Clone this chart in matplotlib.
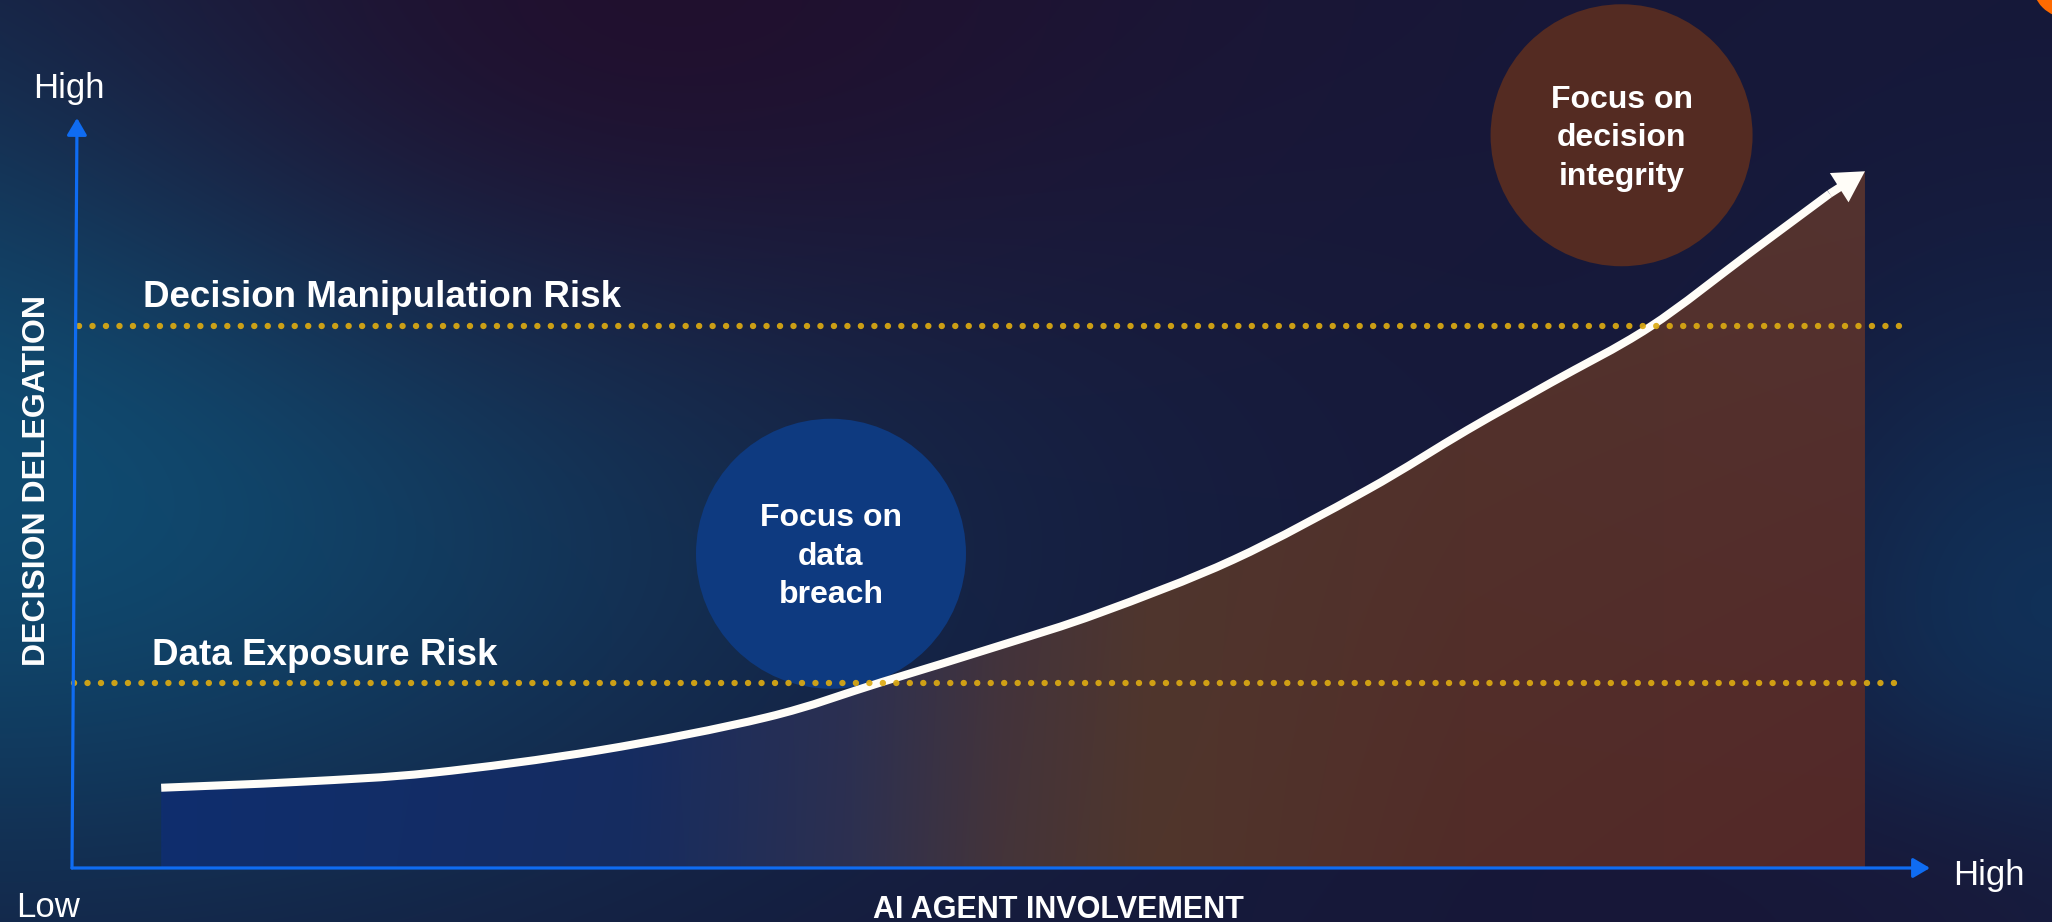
import numpy as np
import matplotlib
matplotlib.use("Agg")
import matplotlib.pyplot as plt
from matplotlib.path import Path
from matplotlib.patches import PathPatch, Circle

# ----------------------------------------------------------------------
#   Data (axes run 0..100 on both directions)
# ----------------------------------------------------------------------
involvement = [4.8, 12.3, 19.4, 28.4, 37.4, 43.6, 50.0, 55.3, 62.5,
               69.7, 75.1, 79.6, 84.9, 90.3, 94.6]
delegation = [10.7, 11.5, 12.7, 15.7, 20.1, 24.8, 29.7, 34.0, 41.1,
              50.4, 58.4, 64.7, 72.1, 82.0, 89.9]
arrow_tip = (96.5, 92.9)

risk_levels = [72.3, 24.7]
risk_labels = ["Decision Manipulation Risk", "Data Exposure Risk"]

focus_x = [40.85, 83.4]
focus_y = [41.9, 97.7]
focus_labels = ["Focus on\ndata\nbreach", "Focus on\ndecision\nintegrity"]

# ----------------------------------------------------------------------
#   Layout / style
# ----------------------------------------------------------------------
W, H = 2052, 922
FONT = "Liberation Sans"
AXIS_BLUE = "#0f6cf2"
DOT_GOLD = "#dcaa12"
LINE_WHITE = "#fffdf8"
focus_colors = ["#0e3a80", "#542b22"]
focus_diam_px = [270, 262]
risk_label_pos = [(3.8, 74.8), (4.3, 27.1)]
risk_line_span = [(0.4, 98.6), (0.1, 98.2)]

plt.rcParams["font.family"] = [FONT, "DejaVu Sans"]


def px(x, y):
    return x / W, 1 - y / H


# ----------------------------------------------------------------------
#   smooth_path: Catmull-Rom curve through the points as Bezier segments
# ----------------------------------------------------------------------
def smooth_path(xs, ys):
    pts = np.column_stack([xs, ys])
    p = np.vstack([pts[0], pts, pts[-1]])
    verts = [pts[0]]
    codes = [Path.MOVETO]
    for i in range(1, len(p) - 2):
        c1 = p[i] + (p[i + 1] - p[i - 1]) / 6
        c2 = p[i + 1] - (p[i + 2] - p[i]) / 6
        verts += [c1, c2, p[i + 1]]
        codes += [Path.CURVE4] * 3
    return verts, codes


fig = plt.figure(figsize=(W / 100, H / 100), dpi=100)

# background made of a few soft colour blobs
yy, xx = np.mgrid[0:H:2, 0:W:2].astype(float)
bg = np.ones(xx.shape + (3,)) * np.array([22, 24, 57]) / 255


def blob(img, cx, cy, sx, sy, color, strength=1.0):
    w = strength * np.exp(-(((xx - cx) / sx) ** 2 + ((yy - cy) / sy) ** 2) / 2)
    w = w[..., None]
    return img * (1 - w) + np.array(color) / 255 * w


bg = blob(bg, 0, 420, 580, 330, (14, 80, 118))
bg = blob(bg, 650, 0, 450, 260, (34, 14, 44), 0.9)
bg = blob(bg, 2052, 640, 200, 230, (16, 52, 92), 0.9)
bg = blob(bg, 1900, 900, 300, 120, (26, 20, 52), 0.6)

bg_ax = fig.add_axes([0, 0, 1, 1])
bg_ax.imshow(np.clip(bg, 0, 1), extent=[0, W, H, 0], aspect="auto",
             interpolation="bilinear")
bg_ax.add_patch(Circle((2068, -18), 36, color="#ff6a00", lw=0))
bg_ax.set_xlim(0, W)
bg_ax.set_ylim(H, 0)
bg_ax.set_axis_off()

# main axes, origin at the corner of the blue axis arrows
left, bottom = px(72, 868)
right, top = px(1930, 118)
ax = fig.add_axes([left, bottom, right - left, top - bottom])
ax.set_xlim(0, 100)
ax.set_ylim(0, 100)
ax.patch.set_alpha(0)
for s in ax.spines.values():
    s.set_visible(False)
ax.set_xticks([])
ax.set_yticks([])

curve_verts, curve_codes = smooth_path(involvement, delegation)

# gradient fill under the curve
fill_verts = curve_verts + [arrow_tip, (arrow_tip[0], 0),
                            (involvement[0], 0), curve_verts[0]]
fill_codes = curve_codes + [Path.LINETO, Path.LINETO, Path.LINETO, Path.CLOSEPOLY]
fill_path = Path(fill_verts, fill_codes)

x_lo, x_hi = involvement[0], arrow_tip[0]
gx = np.linspace(x_lo, x_hi, 400)
stops_x = [4.8, 30, 42, 50, 58, 75, 96.5]
stops_top = [(15, 46, 110), (20, 45, 100), (42, 48, 84), (64, 50, 64),
             (78, 53, 48), (82, 52, 45), (84, 51, 48)]
stops_bot = [(15, 46, 110), (22, 44, 96), (45, 48, 80), (68, 52, 58),
             (80, 54, 44), (82, 44, 40), (84, 40, 40)]
top_row = np.stack([np.interp(gx, stops_x, [c[i] for c in stops_top]) for i in range(3)], -1)
bot_row = np.stack([np.interp(gx, stops_x, [c[i] for c in stops_bot]) for i in range(3)], -1)
t = np.linspace(0, 1, 200)[:, None, None]
grad = (bot_row[None] * (1 - t) + top_row[None] * t) / 255
im = ax.imshow(grad, extent=[x_lo, x_hi, 0, arrow_tip[1]],
               origin="lower", aspect="auto", zorder=1, interpolation="bilinear")
im.set_clip_path(fill_path, transform=ax.transData)

# focus bubbles
for i in range(len(focus_x)):
    d_pt = focus_diam_px[i] * 0.72
    ax.scatter(focus_x[i], focus_y[i], s=d_pt ** 2, color=focus_colors[i],
               edgecolors="none", zorder=2, clip_on=False)
    ax.text(focus_x[i], focus_y[i] - 0.4, focus_labels[i], ha="center",
            va="center", fontsize=23, fontweight="bold", color="white",
            linespacing=1.38, zorder=3, clip_on=False)

# the white curve and its arrow head
ax.add_patch(PathPatch(Path(curve_verts, curve_codes), fill=False,
                       edgecolor=LINE_WHITE, lw=5.8, capstyle="butt",
                       joinstyle="round", zorder=4))
ax.annotate("", xy=arrow_tip, xytext=(involvement[-1], delegation[-1]),
            arrowprops=dict(arrowstyle="simple,head_length=1.1,head_width=1.25,tail_width=0.29",
                            mutation_scale=20, fc=LINE_WHITE, ec="none", lw=0,
                            shrinkA=0, shrinkB=0), zorder=4)

# risk thresholds
for i in range(len(risk_levels)):
    x0, x1 = risk_line_span[i]
    ax.plot([x0, x1], [risk_levels[i], risk_levels[i]], color=DOT_GOLD,
            lw=4.6, linestyle=(0, (0.01, 2.1)), dash_capstyle="round",
            alpha=0.92, zorder=5, clip_on=False)
    lx, ly = risk_label_pos[i]
    ax.text(lx, ly, risk_labels[i], ha="left", va="baseline", fontsize=26.5,
            fontweight="bold", color="white", zorder=6)

# axis arrows
arrow_kw = dict(arrowstyle="-|>,head_length=0.85,head_width=0.5",
                mutation_scale=12, lw=2.3, color=AXIS_BLUE,
                shrinkA=0, shrinkB=0)
ax.annotate("", xy=(1, 0), xytext=(0, 0), xycoords="axes fraction",
            arrowprops=arrow_kw, annotation_clip=False, zorder=7)
ax.annotate("", xy=(0.0027, 1), xytext=(0, 0), xycoords="axes fraction",
            arrowprops=arrow_kw, annotation_clip=False, zorder=7)

# axis end labels and titles
fig.text(*px(33, 98), "High", ha="left", va="baseline", fontsize=25, color="white")
fig.text(*px(16, 917), "Low", ha="left", va="baseline", fontsize=25, color="white")
fig.text(*px(1953, 885), "High", ha="left", va="baseline", fontsize=25, color="white")
fig.text(*px(37, 480), "DECISION DELEGATION", rotation=90, ha="center",
         va="center", fontsize=23, fontweight="bold", color="white")
fig.text(*px(1058, 918), "AI AGENT INVOLVEMENT", ha="center", va="baseline",
         fontsize=22, fontweight="bold", color="white")

fig.savefig("out.png", dpi=100)
plt.close(fig)
